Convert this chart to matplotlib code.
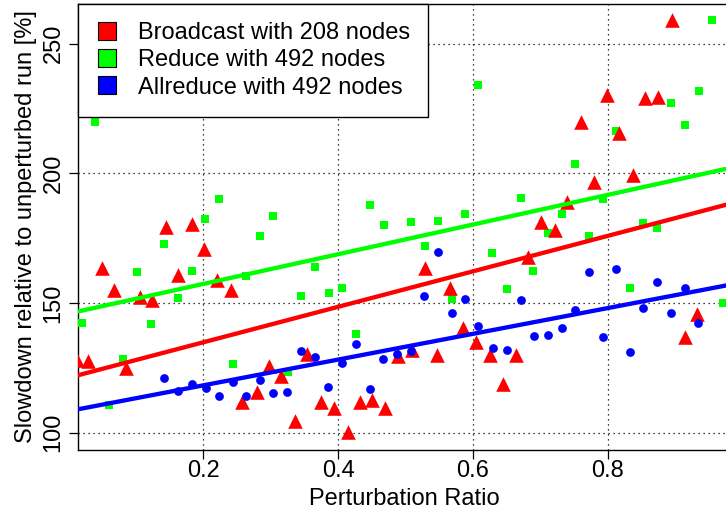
import numpy as np
import matplotlib.pyplot as plt
from matplotlib.lines import Line2D

plt.rcParams['font.family'] = ['Liberation Sans', 'DejaVu Sans']

# Broadcast with 208 nodes
bcast_x = [0.013, 0.029, 0.049, 0.067, 0.085, 0.106, 0.124, 0.144, 0.163, 0.183,
           0.2015, 0.220, 0.241, 0.258, 0.279, 0.298, 0.316, 0.336, 0.354, 0.375,
           0.394, 0.414, 0.433, 0.451, 0.470, 0.489, 0.509, 0.529, 0.547, 0.566,
           0.586, 0.605, 0.625, 0.644, 0.664, 0.682, 0.701, 0.722, 0.740, 0.760,
           0.779, 0.799, 0.817, 0.837, 0.855, 0.875, 0.895, 0.914, 0.932]
bcast_y = [127.9, 127.5, 163.3, 155.0, 125.1, 152.4, 151.1, 179.4, 160.7, 180.4,
           171.0, 158.8, 155.0, 111.8, 115.7, 125.7, 121.7, 104.5, 130.5, 111.8,
           109.5, 100.2, 111.8, 112.7, 109.5, 129.5, 131.8, 163.3, 130.1, 155.6,
           140.2, 135.0, 129.8, 118.9, 129.8, 167.8, 181.3, 178.1, 189.0, 219.9,
           196.8, 230.2, 215.4, 199.3, 228.9, 229.3, 259.2, 136.7, 145.9]

# Reduce with 492 nodes
red_x = [0.0196, 0.040, 0.0606, 0.0813, 0.101, 0.122, 0.142, 0.163, 0.183, 0.203,
         0.223, 0.2436, 0.2634, 0.284, 0.304, 0.325, 0.345, 0.3657, 0.386, 0.406,
         0.4266, 0.447, 0.468, 0.508, 0.529, 0.548, 0.5685, 0.589, 0.608, 0.629,
         0.650, 0.671, 0.6896, 0.711, 0.732, 0.7515, 0.772, 0.793, 0.813, 0.833,
         0.853, 0.8736, 0.894, 0.915, 0.935, 0.955, 0.9708]
red_y = [142.3, 219.7, 110.8, 128.2, 162.0, 141.7, 172.6, 152.0, 162.4, 182.4,
         190.1, 126.3, 160.5, 175.9, 183.6, 123.2, 152.7, 163.9, 153.9, 155.8,
         138.0, 187.8, 180.0, 181.1, 171.9, 181.7, 151.4, 184.2, 234.1, 169.1,
         155.2, 190.6, 162.4, 176.8, 184.2, 203.6, 175.8, 190.0, 216.5, 155.6,
         180.7, 179.0, 227.0, 218.6, 231.9, 259.2, 149.8]

# Allreduce with 492 nodes
allr_x = [0.1417, 0.163, 0.183, 0.2036, 0.2233, 0.2436, 0.2634, 0.284, 0.304, 0.3246,
          0.3445, 0.3657, 0.3855, 0.406, 0.4266, 0.447, 0.467, 0.487, 0.5077, 0.528,
          0.548, 0.5685, 0.589, 0.608, 0.630, 0.650, 0.671, 0.691, 0.711, 0.732,
          0.7515, 0.772, 0.7926, 0.812, 0.833, 0.853, 0.8736, 0.894, 0.9147, 0.9345]
allr_y = [121.2, 115.9, 118.6, 117.2, 114.1, 119.5, 114.1, 120.2, 115.1, 115.7,
          131.5, 129.2, 117.6, 127.0, 134.1, 117.0, 128.2, 130.5, 131.5, 152.7,
          169.7, 146.2, 151.7, 141.2, 132.8, 131.8, 151.1, 137.2, 137.6, 140.4,
          147.2, 161.8, 136.9, 163.1, 130.9, 148.1, 158.1, 146.2, 155.6, 142.3]

labels = ['Broadcast with 208 nodes', 'Reduce with 492 nodes', 'Allreduce with 492 nodes']
colors = ['#FF0000', '#00FF00', '#0000FF']
xticks = [0.2, 0.4, 0.6, 0.8]
yticks = [100, 150, 200, 250]

fig = plt.figure(figsize=(7.26, 5.11), dpi=100)
ax = fig.add_axes([77.7 / 726, 61.3 / 511, 652.3 / 726, 445.4 / 511])

ax.grid(True, color='black', linestyle=(0, (1, 3)), linewidth=0.9)
ax.set_axisbelow(True)

ax.scatter(red_x, red_y, marker='s', s=5.8**2, color=colors[1], linewidths=0, zorder=3)
ax.scatter(bcast_x, bcast_y, marker='^', s=10.5**2, color=colors[0], linewidths=0, zorder=3)
ax.scatter(allr_x, allr_y, marker='o', s=6.3**2, color=colors[2], linewidths=0, zorder=3)

# linear fits
for xs, ys, c in [(bcast_x, bcast_y, colors[0]), (red_x, red_y, colors[1]), (allr_x, allr_y, colors[2])]:
    m, b = np.polyfit(xs, ys, 1)
    ax.axline((0, b), slope=m, color=c, linewidth=3.1, zorder=4)

ax.set_xlim(0.0136, 0.9815)
ax.set_ylim(93.4, 265.2)
ax.set_xticks(xticks)
ax.set_xticklabels([str(v) for v in xticks])
ax.set_yticks(yticks)
ax.set_yticklabels([str(v) for v in yticks])
ax.tick_params(length=6.5, width=0.9, labelsize=17)
ax.tick_params(axis='x', pad=0.8)
ax.tick_params(axis='y', labelrotation=90, pad=2.9)
for lbl in ax.get_yticklabels():
    lbl.set_va('center')

for s in ['left', 'bottom', 'top']:
    ax.spines[s].set_linewidth(1.0)
ax.spines['right'].set_visible(False)

ax.set_xlabel('Perturbation Ratio', fontsize=17)
ax.xaxis.set_label_coords(0.5, -0.125)
ax.xaxis.label.set_va('baseline')
ax.set_ylabel('Slowdown relative to unperturbed run [%]', fontsize=17)
ax.yaxis.set_label_coords(-0.0619, 0.5)

handles = [Line2D([], [], linestyle='none', marker='s', markersize=13,
                  markerfacecolor=c, markeredgecolor='black', markeredgewidth=0.8)
           for c in colors]
leg = ax.legend(handles, labels, loc='upper left', bbox_to_anchor=(0, 1),
                borderaxespad=0, fontsize=17, frameon=True, fancybox=False,
                edgecolor='black', framealpha=1, borderpad=0.76, handlelength=1.0,
                handletextpad=0.8, labelspacing=0.22)
leg.get_frame().set_linewidth(1.0)

plt.savefig('out.png', dpi=100)
